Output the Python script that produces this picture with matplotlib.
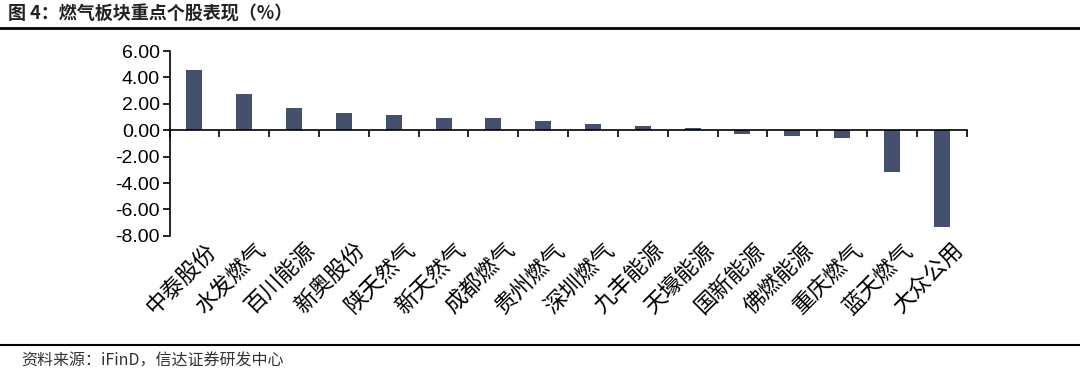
import matplotlib.pyplot as plt
import numpy as np

plt.rcParams['font.family'] = ['Liberation Sans', 'Noto Sans CJK SC', 'DejaVu Sans']

# data
names = ['中泰股份', '水发燃气', '百川能源', '新奥股份', '陕天然气', '新天然气', '成都燃气', '贵州燃气',
         '深圳燃气', '九丰能源', '天壕能源', '国新能源', '佛燃能源', '重庆燃气', '蓝天燃气', '大众公用']
values = [4.59, 2.77, 1.72, 1.31, 1.18, 0.95, 0.90, 0.72,
          0.44, 0.30, 0.18, -0.30, -0.43, -0.56, -3.15, -7.33]
yticks = [6, 4, 2, 0, -2, -4, -6, -8]

fig = plt.figure(figsize=(10.8, 3.78), dpi=100)
ax = fig.add_axes([0.157, 0.376, 0.738, 0.489])

x = np.arange(len(names))
ax.bar(x, values, width=0.32, color='#44506e', zorder=2)

ax.set_xlim(-0.5, len(names) - 0.5)
ax.set_ylim(-8, 6)
ax.set_yticks(yticks)
ax.set_yticklabels(['%.2f' % v for v in yticks], fontsize=14)
ax.tick_params(axis='y', direction='out', length=5, width=1.2, pad=2)

# category axis drawn at zero
ax.spines['bottom'].set_position(('data', 0))
ax.spines['top'].set_visible(False)
ax.spines['right'].set_visible(False)
ax.spines['left'].set_linewidth(1.2)
ax.spines['bottom'].set_linewidth(1.2)
ax.set_xticks(np.arange(len(names) + 1) - 0.5)
ax.set_xticklabels([])
ax.tick_params(axis='x', direction='out', length=5, width=1.2)

# rotated labels below the plot
for i, n in enumerate(names):
    ax.text(i + 0.2, -8.2, n, rotation=45, ha='right', va='top', rotation_mode='anchor',
            fontsize=16, family=['Noto Sans CJK SC'])

fig.text(0.007, 0.963, '图 4：燃气板块重点个股表现（%）', fontsize=13, fontweight='bold',
         va='center', ha='left', color='#222222', family=['Noto Sans CJK SC'])
fig.add_artist(plt.Line2D([0.0, 1.0], [0.926, 0.926], color='black', lw=2))
fig.add_artist(plt.Line2D([0.0, 1.0], [0.087, 0.087], color='black', lw=1.5))
fig.text(0.02, 0.045, '资料来源：iFinD，信达证券研发中心', fontsize=11.5, style='italic',
         va='center', ha='left', color='#333333', family=['Noto Sans CJK SC'])

fig.savefig('out.png', dpi=100)
